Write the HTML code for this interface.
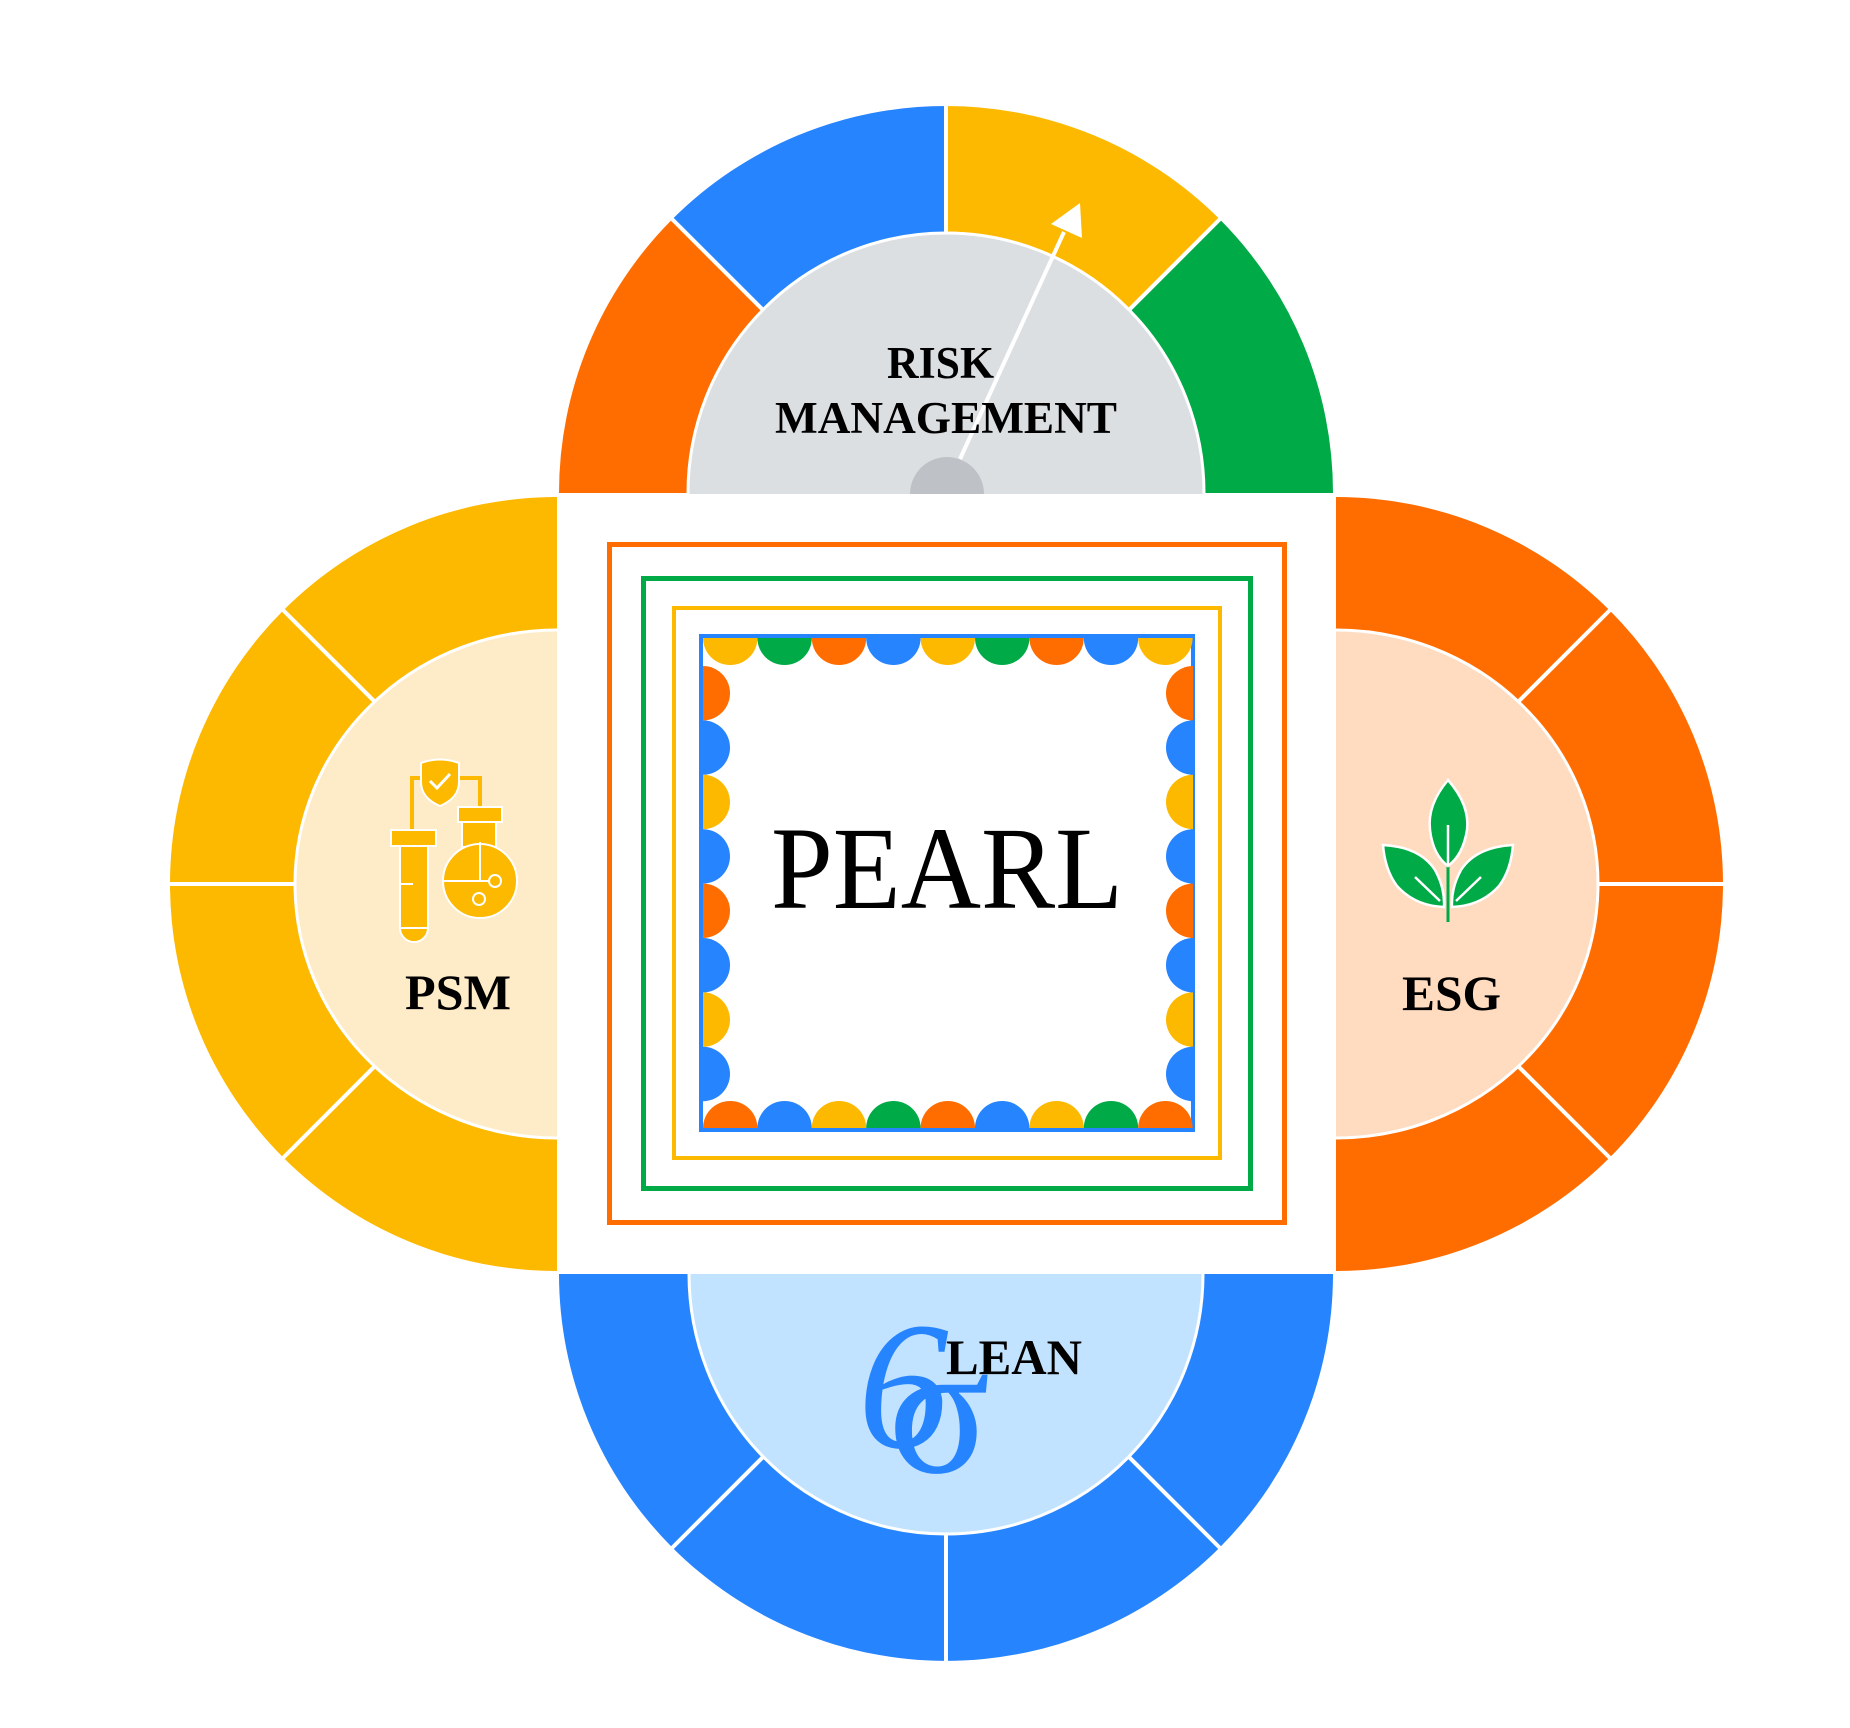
<!DOCTYPE html>
<html><head><meta charset="utf-8"><style>html,body{margin:0;padding:0;background:#fff}svg{display:block}
.s{font-family:"Liberation Serif","Times New Roman",Times,serif}</style></head>
<body>
<svg width="1850" height="1728" viewBox="0 0 1850 1728" xmlns="http://www.w3.org/2000/svg">
<g>
<path d="M946 493 L559 493 A387 387 0 0 1 672.3 219.3 Z" fill="#FF6D00"/>
<path d="M946 493 L672.3 219.3 A387 387 0 0 1 946 106 Z" fill="#2684FF"/>
<path d="M946 493 L946 106 A387 387 0 0 1 1219.7 219.3 Z" fill="#FDB900"/>
<path d="M946 493 L1219.7 219.3 A387 387 0 0 1 1333 493 Z" fill="#00AA47"/>
<g stroke="#fff" stroke-width="4"><line x1="946" y1="493" x2="672" y2="219"/><line x1="946" y1="493" x2="946" y2="100"/><line x1="946" y1="493" x2="1220" y2="219"/></g>
<ellipse cx="946" cy="493" rx="258" ry="260" fill="#DCDFE2" stroke="#fff" stroke-width="3"/>
<circle cx="947" cy="494" r="37" fill="#BEC2C6"/>
</g>
<g>
<path d="M557 884 L557 497 A387 387 0 0 0 557 1271 Z" fill="#FDB900"/>
<g stroke="#fff" stroke-width="4"><line x1="557" y1="884" x2="283" y2="610"/><line x1="557" y1="884" x2="165" y2="884"/><line x1="557" y1="884" x2="283" y2="1158"/></g>
<ellipse cx="557" cy="884" rx="262" ry="254" fill="#FEEBC8" stroke="#fff" stroke-width="3"/>
</g>
<g>
<path d="M1336 884 L1336 497 A387 387 0 0 1 1336 1271 Z" fill="#FF6D00"/>
<g stroke="#fff" stroke-width="4"><line x1="1336" y1="884" x2="1610" y2="610"/><line x1="1336" y1="884" x2="1730" y2="884"/><line x1="1336" y1="884" x2="1610" y2="1158"/></g>
<ellipse cx="1336" cy="884" rx="262" ry="254" fill="#FFDBC0" stroke="#fff" stroke-width="3"/>
</g>
<g>
<path d="M946 1274 L559 1274 A387 387 0 0 0 1333 1274 Z" fill="#2684FF"/>
<g stroke="#fff" stroke-width="4"><line x1="946" y1="1274" x2="672" y2="1548"/><line x1="946" y1="1274" x2="946" y2="1670"/><line x1="946" y1="1274" x2="1220" y2="1548"/></g>
<ellipse cx="946" cy="1274" rx="257" ry="260" fill="#C2E3FF" stroke="#fff" stroke-width="3"/>
</g>
<rect x="557" y="494" width="779" height="780" fill="#fff"/>
<rect x="609.5" y="544.5" width="675" height="678" fill="none" stroke="#FF6D00" stroke-width="5"/>
<rect x="643.5" y="578.5" width="607" height="610" fill="none" stroke="#00AA47" stroke-width="5"/>
<rect x="674" y="608" width="546" height="550" fill="none" stroke="#FDB900" stroke-width="4"/>
<rect x="701" y="636" width="492" height="494" fill="none" stroke="#2684FF" stroke-width="4"/>
<g>
<path d="M703 638 h54.4 a27.2 27 0 0 1 -54.4 0z" fill="#FDB900"/>
<path d="M757.4 638 h54.4 a27.2 27 0 0 1 -54.4 0z" fill="#00AA47"/>
<path d="M811.8 638 h54.4 a27.2 27 0 0 1 -54.4 0z" fill="#FF6D00"/>
<path d="M866.2 638 h54.4 a27.2 27 0 0 1 -54.4 0z" fill="#2684FF"/>
<path d="M920.6 638 h54.4 a27.2 27 0 0 1 -54.4 0z" fill="#FDB900"/>
<path d="M975 638 h54.4 a27.2 27 0 0 1 -54.4 0z" fill="#00AA47"/>
<path d="M1029.4 638 h54.4 a27.2 27 0 0 1 -54.4 0z" fill="#FF6D00"/>
<path d="M1083.8 638 h54.4 a27.2 27 0 0 1 -54.4 0z" fill="#2684FF"/>
<path d="M1138.2 638 h54.4 a27.2 27 0 0 1 -54.4 0z" fill="#FDB900"/>
<path d="M703 1128 h54.4 a27.2 27 0 0 0 -54.4 0z" fill="#FF6D00"/>
<path d="M757.4 1128 h54.4 a27.2 27 0 0 0 -54.4 0z" fill="#2684FF"/>
<path d="M811.8 1128 h54.4 a27.2 27 0 0 0 -54.4 0z" fill="#FDB900"/>
<path d="M866.2 1128 h54.4 a27.2 27 0 0 0 -54.4 0z" fill="#00AA47"/>
<path d="M920.6 1128 h54.4 a27.2 27 0 0 0 -54.4 0z" fill="#FF6D00"/>
<path d="M975 1128 h54.4 a27.2 27 0 0 0 -54.4 0z" fill="#2684FF"/>
<path d="M1029.4 1128 h54.4 a27.2 27 0 0 0 -54.4 0z" fill="#FDB900"/>
<path d="M1083.8 1128 h54.4 a27.2 27 0 0 0 -54.4 0z" fill="#00AA47"/>
<path d="M1138.2 1128 h54.4 a27.2 27 0 0 0 -54.4 0z" fill="#FF6D00"/>
<path d="M703 666 v54.4 a27 27.2 0 0 0 0 -54.4z" fill="#FF6D00"/>
<path d="M703 720.4 v54.4 a27 27.2 0 0 0 0 -54.4z" fill="#2684FF"/>
<path d="M703 774.8 v54.4 a27 27.2 0 0 0 0 -54.4z" fill="#FDB900"/>
<path d="M703 829.2 v54.4 a27 27.2 0 0 0 0 -54.4z" fill="#2684FF"/>
<path d="M703 883.6 v54.4 a27 27.2 0 0 0 0 -54.4z" fill="#FF6D00"/>
<path d="M703 938 v54.4 a27 27.2 0 0 0 0 -54.4z" fill="#2684FF"/>
<path d="M703 992.4 v54.4 a27 27.2 0 0 0 0 -54.4z" fill="#FDB900"/>
<path d="M703 1046.8 v54.4 a27 27.2 0 0 0 0 -54.4z" fill="#2684FF"/>
<path d="M1193 666 v54.4 a27 27.2 0 0 1 0 -54.4z" fill="#FF6D00"/>
<path d="M1193 720.4 v54.4 a27 27.2 0 0 1 0 -54.4z" fill="#2684FF"/>
<path d="M1193 774.8 v54.4 a27 27.2 0 0 1 0 -54.4z" fill="#FDB900"/>
<path d="M1193 829.2 v54.4 a27 27.2 0 0 1 0 -54.4z" fill="#2684FF"/>
<path d="M1193 883.6 v54.4 a27 27.2 0 0 1 0 -54.4z" fill="#FF6D00"/>
<path d="M1193 938 v54.4 a27 27.2 0 0 1 0 -54.4z" fill="#2684FF"/>
<path d="M1193 992.4 v54.4 a27 27.2 0 0 1 0 -54.4z" fill="#FDB900"/>
<path d="M1193 1046.8 v54.4 a27 27.2 0 0 1 0 -54.4z" fill="#2684FF"/>
</g>
<text class="s" x="771" y="908" textLength="352" lengthAdjust="spacingAndGlyphs" font-size="118" fill="#000">PEARL</text>
<line x1="960" y1="459" x2="1064" y2="232" stroke="#fff" stroke-width="4"/>
<polygon points="1080,203 1051,224 1082,238" fill="#fff"/>
<g class="s" font-weight="bold" fill="#000">
<text x="887" y="378" textLength="107" lengthAdjust="spacingAndGlyphs" font-size="45">RISK</text>
<text x="775" y="433" textLength="342" lengthAdjust="spacingAndGlyphs" font-size="45">MANAGEMENT</text>
<text x="405" y="1009" textLength="106" lengthAdjust="spacingAndGlyphs" font-size="50">PSM</text>
<text x="1402" y="1010" textLength="99" lengthAdjust="spacingAndGlyphs" font-size="50">ESG</text>
<text x="946" y="1374" textLength="136" lengthAdjust="spacingAndGlyphs" font-size="50">LEAN</text>
</g>
<g class="s" fill="#2684FF">
<text x="858" y="1447" font-size="182" font-style="italic">6</text>
<text x="888" y="1472" font-size="190">σ</text>
</g>
<g fill="#FDB900" stroke="#fff" stroke-width="2">
<path d="M412 830 V778 H423 M457 778 H480 V807" fill="none" stroke="#FDB900" stroke-width="4"/>
<path d="M421 763 Q440 756 459 763 V782 Q459 798 440 806 Q421 798 421 782 Z"/>
<path d="M430 781 L437 788 L450 774" fill="none" stroke="#fff" stroke-width="3"/>
<rect x="391" y="830" width="45" height="16"/>
<path d="M400 846 H428 V928 A14 14 0 0 1 400 928 Z"/>
<line x1="400" y1="928" x2="428" y2="928"/>
<line x1="400" y1="884" x2="413" y2="884"/>
<rect x="462" y="822" width="34" height="25"/>
<rect x="458" y="807" width="44" height="15"/>
<circle cx="480" cy="881" r="37"/>
<path d="M443 881 H480 V842 M480 881 H490" fill="none"/>
<circle cx="495" cy="881" r="6"/>
<circle cx="479" cy="899" r="6"/>
</g>
<g fill="#00AA47" stroke="#fff" stroke-width="2.5">
<line x1="1448" y1="860" x2="1448" y2="922" stroke="#00AA47" stroke-width="3"/>
<path d="M1448 780 Q1470 805 1467 830 Q1463 855 1448 866 Q1433 855 1430 830 Q1427 805 1448 780 Z"/>
<path d="M1383 845 Q1420 847 1435 870 Q1445 888 1444 907 Q1415 906 1397 886 Q1385 870 1383 845 Z"/>
<path d="M1513 845 Q1476 847 1461 870 Q1451 888 1452 907 Q1481 906 1499 886 Q1511 870 1513 845 Z"/>
<line x1="1448" y1="825" x2="1448" y2="866" stroke="#fff" stroke-width="2.5"/>
<line x1="1415" y1="877" x2="1440" y2="901" stroke="#fff"/>
<line x1="1481" y1="877" x2="1456" y2="901" stroke="#fff"/>
</g>
</svg>
</body></html>
